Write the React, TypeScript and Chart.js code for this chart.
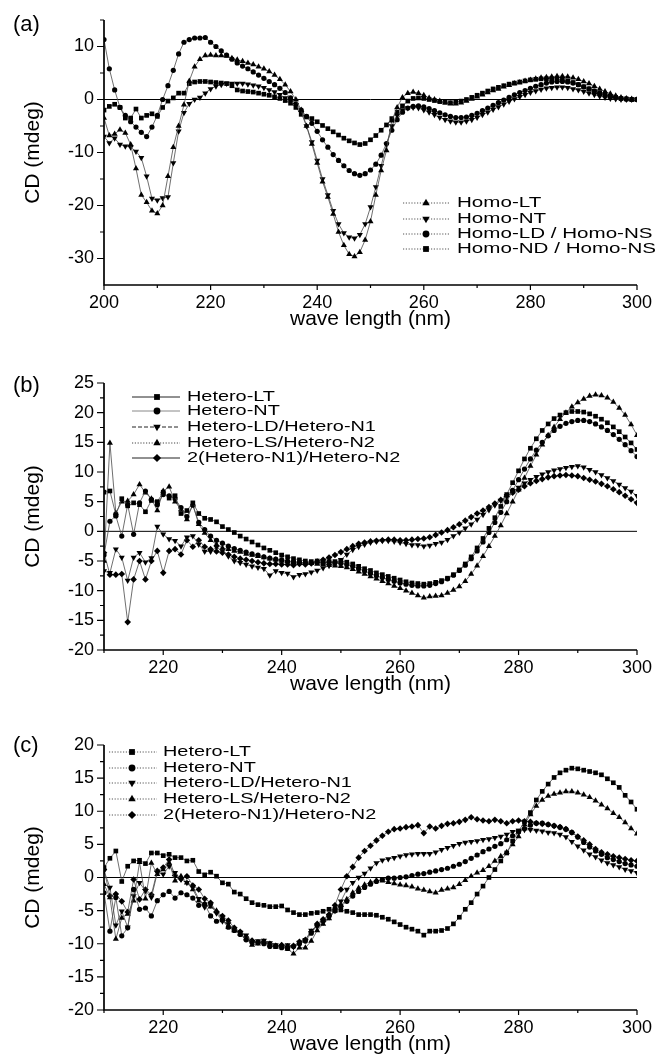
import React, { useEffect, useRef } from 'react';
import { Chart, registerables } from 'chart.js';

Chart.register(...registerables);

// ---------- categories (wavelength grids, nm) ----------
const range = (a: number, b: number) => Array.from({ length: b - a + 1 }, (_, i) => a + i);
const WL_A = range(200, 300);
const WL_BC = range(210, 300);

// ---------- tick labels ----------
const A_X_TICKS = [200, 220, 240, 260, 280, 300];
const A_X_MINOR = [210, 230, 250, 270, 290];
const A_Y_TICKS = [10, 0, -10, -20, -30];
const A_Y_MINOR = [15, 5, -5, -15, -25];
const BC_X_TICKS = [220, 240, 260, 280, 300];
const BC_X_MINOR = [210, 230, 250, 270, 290];
const B_Y_TICKS = [25, 20, 15, 10, 5, 0, -5, -10, -15, -20];
const B_Y_MINOR = [22.5, 17.5, 12.5, 7.5, 2.5, -2.5, -7.5, -12.5, -17.5];
const C_Y_TICKS = [20, 15, 10, 5, 0, -5, -10, -15, -20];
const C_Y_MINOR = [17.5, 12.5, 7.5, 2.5, -2.5, -7.5, -12.5, -17.5];

// ---------- panel (a) series, 200..300 nm ----------
const A_LABELS = ['Homo-LT', 'Homo-NT', 'Homo-LD / Homo-NS', 'Homo-ND / Homo-NS'];
const A_LT = [
  -3.5, -6.8, -6.5, -5.7, -6.3, -8.5, -13, -18, -19.4, -21,
  -21.5, -20, -14.5, -9, -5, -1, 3.5, 6.2, 7.6, 8.3,
  8.4, 8.3, 8.3, 8.2, 7.8, 7.5, 7.2, 6.9, 6.6, 6.2,
  5.8, 5.3, 4.6, 3.8, 2.8, 1.5, 0, -2, -5, -8.4,
  -12, -15.5, -18.4, -21.6, -25, -27.5, -29.2, -29.6, -28.8, -26.5,
  -23, -18, -13.4, -9.6, -4, -1.5, 0.4, 1.2, 1.4, 1.2,
  0.8, 0.3, 0, -0.3, -0.6, -0.8, -0.8, -0.6, -0.3, 0.1,
  0.5, 0.9, 1.3, 1.7, 2, 2.4, 2.7, 3, 3.2, 3.5,
  3.7, 3.9, 4.1, 4.2, 4.3, 4.4, 4.4, 4.3, 4.1, 3.8,
  3.4, 3, 2.5, 2, 1.5, 1.1, 0.7, 0.4, 0.2, 0.1,
  0,
];
const A_NT = [
  -7, -8.2, -7.3, -8.5, -8.8, -9, -9.8, -11, -14.5, -18.7,
  -19, -18.6, -18.4, -12, -6, -2.5, -0.8, 0, 0.4, 1.2,
  2, 2.5, 2.8, 3, 3, 3, 3, 2.9, 2.7, 2.5,
  2.2, 1.8, 1.4, 0.9, 0.3, -0.3, -1, -2.5, -5, -8,
  -11.5, -15, -18, -21, -23.5, -25.2, -26, -26.2, -25.5, -23.5,
  -20.3, -16.5, -12.5, -8.5, -5, -3, -2, -1.6, -1.5, -1.6,
  -2, -2.4, -2.9, -3.4, -3.8, -4.1, -4.3, -4.3, -4.1, -3.8,
  -3.4, -2.9, -2.4, -1.9, -1.4, -0.9, -0.4, 0.1, 0.5, 0.9,
  1.3, 1.6, 1.9, 2.1, 2.2, 2.3, 2.3, 2.2, 2, 1.8,
  1.5, 1.2, 0.9, 0.6, 0.4, 0.2, 0.1, 0, 0, 0,
  0,
];
const A_LD = [
  11.3, 5.8, 1.8, -1.5, -3, -4.2, -5.2, -6.2, -7, -5.2,
  -3, 0, 2.6, 5.5, 8.6, 10.8, 11.3, 11.6, 11.6, 11.7,
  10.8, 10, 9.2, 8.4, 7.6, 6.9, 6.3, 5.8, 5.2, 4.6,
  4, 3.4, 2.8, 2.1, 1.3, 0.3, -0.8, -2, -3.2, -4.5,
  -6, -7.6, -9, -10.4, -11.5, -12.5, -13.4, -14, -14.3, -14,
  -13.3, -12.2, -10.5, -8.3, -5.8, -3.8, -2.4, -1.6, -1.3, -1.2,
  -1.4, -1.7, -2.1, -2.5, -2.9, -3.2, -3.4, -3.4, -3.3, -3,
  -2.6, -2.1, -1.6, -1.1, -0.6, -0.1, 0.4, 0.9, 1.3, 1.7,
  2.1, 2.5, 2.8, 3.1, 3.3, 3.4, 3.4, 3.3, 3.1, 2.8,
  2.4, 2, 1.6, 1.2, 0.9, 0.6, 0.4, 0.2, 0.1, 0,
  0,
];
const A_ND = [
  -2, -1.3, -0.9, -1.5, -3.5, -3.5, -1.8, -3.5, -3, -2.7,
  -3.2, -1.5, -0.3, 0.3, 1.2, 1.2, 3, 3.3, 3.4, 3.4,
  3.3, 3.2, 3.1, 3, 2.6, 1.8, 1.6, 1.5, 1.4, 1.2,
  1, 0.8, 0.5, 0.2, -0.2, -0.7, -1.5, -2.8, -3.3, -3.6,
  -4.2, -4.9, -5.5, -6.1, -6.7, -7.3, -7.8, -8.2, -8.5, -8.3,
  -7.6, -6.8, -5.8, -4.8, -3.6, -2.4, -1.2, -0.3, 0.2, 0.3,
  0.2, 0, -0.2, -0.4, -0.5, -0.6, -0.5, -0.3, 0, 0.4,
  0.8, 1.2, 1.6, 2, 2.3, 2.6, 2.9, 3.1, 3.3, 3.5,
  3.7, 3.8, 3.9, 3.9, 3.9, 3.8, 3.7, 3.5, 3.2, 2.8,
  2.4, 2, 1.6, 1.2, 0.9, 0.6, 0.4, 0.2, 0.1, 0,
  0,
];

// ---------- panel (b) series, 210..300 nm ----------
const B_LABELS = ['Hetero-LT', 'Hetero-NT', 'Hetero-LD/Hetero-N1', 'Hetero-LS/Hetero-N2', '2(Hetero-N1)/Hetero-N2'];
const B_LT = [
  6.6, 6.8, 2.8, 5.5, 4.3, 4.8, 4.5, 3.3, 5.2, 5.0,
  6.6, 5.6, 6.0, 3.0, 3.5, 4.8, 3.0, 2.2, 2.0, 1.6,
  0.8, 0.3, -0.2, -0.8, -1.3, -1.8, -2.3, -2.8, -3.2, -3.6,
  -4.0, -4.3, -4.6, -4.8, -5.0, -5.1, -5.0, -5.2, -5.1, -5.1,
  -5.0, -5.2, -5.5, -5.9, -6.3, -6.6, -7.0, -7.3, -7.6, -7.9,
  -8.2, -8.5, -8.7, -8.8, -8.9, -8.8, -8.6, -8.3, -7.9, -7.3,
  -6.5, -5.5, -4.3, -2.8, -1.2, 0.5, 2.3, 4.2, 6.2, 8.2,
  10.2, 12.2, 14.0, 15.6, 17.0, 18.1, 19.0, 19.6, 20.0, 20.2,
  20.2, 20.1, 19.8, 19.4, 18.9, 18.3, 17.6, 16.8, 15.9, 14.9,
  13.8,
];
const B_NT = [
  -4.0, 1.7, 2.6, -0.8, 4.5, -0.5, 4.8, 6.8, 5.4, 4.5,
  6.2, 6.0, 5.5, 4.0, 2.5, 4.4, 1.5, 0.3, -0.8, -1.5,
  -2.0, -2.5, -2.9, -3.2, -3.5, -3.8, -4.0, -4.3, -4.5, -4.7,
  -4.8, -5.0, -5.1, -5.2, -5.3, -5.3, -5.2, -5.3, -5.2, -5.3,
  -5.4, -5.6, -5.9, -6.3, -6.7, -7.1, -7.5, -7.8, -8.1, -8.4,
  -8.7, -8.9, -9.1, -9.2, -9.2, -9.1, -8.8, -8.5, -8.0, -7.4,
  -6.6, -5.7, -4.6, -3.3, -1.8, -0.2, 1.5, 3.2, 5.0, 6.9,
  8.7, 10.5, 12.2, 13.7, 15.0, 16.1, 17.0, 17.7, 18.2, 18.5,
  18.7, 18.7, 18.5, 18.1, 17.6, 17.0, 16.3, 15.5, 14.6, 13.6,
  12.6,
];
const B_LD = [
  -6.7, -7.0, -3.0, -4.4, -8.3, -4.4, -3.6, -5.2, -4.5, 0.8,
  -0.5, -1.3, -1.6, -2.5, -1.0, -0.8, -2.2, -3.4, -3.4, -2.7,
  -3.3, -4.2, -5.0, -5.3, -5.6, -5.9, -6.1, -6.3, -7.4, -6.7,
  -7.0, -7.1, -7.7, -7.3, -7.2, -6.9, -6.6, -6.2, -5.8, -5.4,
  -4.8, -3.9, -3.1, -2.6, -2.2, -1.9, -1.7, -1.6, -1.6, -1.7,
  -1.9, -2.1, -2.3, -2.3, -2.5, -2.4, -2.1, -1.9, -1.4, -0.8,
  -0.2, 0.5, 1.2, 2.0, 2.8, 3.6, 4.4, 5.2, 6.0, 6.7,
  7.4, 8.1, 8.7, 9.2, 9.6, 10.0, 10.3, 10.5, 10.7, 10.9,
  11.0, 10.8, 10.4, 10.0, 9.5, 9.0, 8.5, 7.9, 7.3, 6.7,
  6.0,
];
const B_LS = [
  -5.0, 14.9, 3.1, 5.0, 5.1, 6.2, 7.9, 6.5, 5.5, 3.5,
  6.8, 7.5, 5.0, 3.7, 2.0, 4.5, 1.2, -0.3, -1.5, -2.2,
  -2.8, -3.0, -3.3, -3.5, -3.8, -4.0, -4.2, -4.4, -4.6, -4.8,
  -5.0, -5.1, -5.2, -5.3, -5.4, -5.4, -5.5, -5.6, -5.7, -5.8,
  -5.9, -6.1, -6.4, -6.8, -7.2, -7.6, -8.0, -8.4, -8.8, -9.2,
  -9.6, -10.0, -10.4, -10.8, -11.2, -11.0, -10.9, -10.8, -10.4, -9.9,
  -9.3, -8.4, -7.2, -5.8, -4.2, -2.5, -0.8, 1.0, 3.0, 5.0,
  7.0, 9.0, 11.0, 12.9, 14.6, 16.2, 17.6, 18.9, 20.0, 21.0,
  21.7, 22.3, 22.8, 23.0, 22.9, 22.5, 21.8, 20.8, 19.6, 18.0,
  16.2,
];
const B_2N1 = [
  -3.6, -7.3, -7.3, -7.2, -15.3, -8.1, -5.0, -8.1, -5.0, -3.3,
  -7.0, -3.3, -3.0, -3.9, -1.5, -2.6, -1.5, -2.6, -3.0, -3.4,
  -3.6, -3.9, -4.3, -4.6, -4.8, -5.0, -5.2, -5.4, -5.5, -5.5,
  -5.6, -5.6, -5.7, -5.5, -5.6, -5.4, -5.1, -4.8, -4.4, -4.0,
  -3.5, -3.0, -2.5, -2.1, -1.9, -1.7, -1.6, -1.5, -1.4, -1.4,
  -1.5, -1.5, -1.4, -1.3, -1.2, -1.0, -0.6, -0.2, 0.2, 0.7,
  1.2, 1.8, 2.4, 3.0, 3.5, 4.1, 4.7, 5.3, 5.9, 6.5,
  7.0, 7.6, 8.1, 8.5, 8.8, 9.1, 9.3, 9.4, 9.5, 9.4,
  9.3, 9.0, 8.7, 8.4, 8.0, 7.6, 7.1, 6.6, 6.0, 5.4,
  4.8,
];

// ---------- panel (c) series, 210..300 nm ----------
const C_LABELS = ['Hetero-LT', 'Hetero-NT', 'Hetero-LD/Hetero-N1', 'Hetero-LS/Hetero-N2', '2(Hetero-N1)/Hetero-N2'];
const C_LT = [
  1.5, 2.9, 4.0, -0.6, 1.7, 2.5, 2.6, 2.1, 3.7, 3.7,
  3.3, 3.5, 3.0, 3.0, 2.5, 2.6, 0.9, 0.4, 0.8, 0.2,
  -0.8, -1.0, -2.2, -2.5, -3.2, -3.8, -4.1, -4.2, -4.4, -4.4,
  -4.3, -4.9, -5.3, -5.6, -5.6, -5.4, -5.3, -5.1, -4.8, -4.8,
  -4.9, -5.1, -5.3, -5.6, -5.6, -5.6, -5.7, -6.0, -6.3, -6.7,
  -7.1, -7.5, -7.8, -8.1, -8.7, -8.1, -8.1, -8.0, -7.7, -7.0,
  -6.0, -4.8, -3.8, -2.5, -1.3, 0.0, 1.2, 2.5, 3.7, 5.5,
  7.0, 8.4, 9.8, 11.7, 13.0, 14.1, 15.1, 15.8, 16.2, 16.5,
  16.4, 16.2, 16.0, 15.8, 15.5, 14.9, 14.3, 13.6, 12.4, 11.4,
  10.3,
];
const C_NT = [
  -2.3, -8.1, -3.0, -8.8, -7.6, -1.8, -4.8, -4.6, -5.8, -3.5,
  -2.6, -2.1, -3.1, -2.3, -2.6, -3.1, -4.2, -4.0, -5.8, -6.6,
  -6.3, -7.5, -8.0, -8.6, -9.4, -9.8, -9.8, -10.0, -10.4, -10.4,
  -10.6, -10.7, -10.4, -10.0, -9.6, -8.4, -7.2, -6.5, -5.8, -5.0,
  -4.3, -3.6, -2.8, -2.1, -1.5, -1.0, -0.6, -0.3, -0.1, -0.1,
  0.0, 0.1, 0.3, 0.5, 0.6, 0.8, 1.0, 1.2, 1.4, 1.7,
  2.0, 2.4, 2.9, 3.4, 3.9, 4.3, 4.7, 5.1, 5.7, 6.3,
  6.9, 7.4, 7.9, 8.2, 8.2, 8.0, 7.8, 7.6, 7.3, 6.8,
  6.1, 5.3, 4.6, 4.0, 3.5, 3.0, 2.7, 2.4, 2.1, 1.9,
  1.7,
];
const C_LD = [
  1.0, -1.5, -7.2, -5.1, -7.5, -2.8, -0.8, -2.0, -3.0, 0.7,
  0.5, 1.7, 0.7, -0.3, -0.8, -1.5, -3.2, -4.5, -4.2, -5.4,
  -6.6, -7.0, -7.8, -8.3, -8.7, -9.8, -9.6, -9.5, -9.9, -10.2,
  -10.4, -10.2, -10.5, -9.8, -9.4, -8.0, -7.4, -6.8, -6.0, -5.0,
  -3.6, -1.8, -0.8, 0.0, 0.6, 1.4, 2.2, 2.6, 2.8, 3.0,
  3.2, 3.4, 3.5, 3.6, 3.6, 3.6, 3.8, 4.2, 4.5, 4.8,
  5.1, 5.3, 5.4, 5.5, 5.7, 5.8, 6.0, 6.2, 6.5, 6.9,
  7.1, 7.2, 7.2, 7.1, 7.0, 6.8, 6.7, 6.5, 6.1, 5.4,
  4.7, 4.1, 3.5, 3.1, 2.6, 2.2, 1.9, 1.6, 1.2, 1.0,
  0.7,
];
const C_LS = [
  -1.0, -3.0, -9.3, -6.1, -5.5, -3.5, 2.3, -3.2, 2.2, 0.5,
  1.2, 2.2, -0.5, 0.2, -0.8, -1.8, -3.5, -4.0, -4.4, -5.0,
  -6.5, -7.5, -8.0, -8.5, -9.2, -10.2, -10.0, -9.7, -10.2, -10.5,
  -10.3, -10.8, -11.5, -10.6, -10.6, -9.6, -8.0, -7.0, -6.2, -5.0,
  -4.2, -3.3, -2.3, -1.6, -1.1, -0.7, -0.4, -0.5, -0.7, -0.9,
  -1.1, -1.2, -1.4, -1.7, -1.9, -2.1, -2.3, -1.9, -1.7, -1.5,
  -1.0, -0.4, 0.2, 0.7, 1.1, 1.7, 2.5, 3.2, 3.8, 5.0,
  6.2, 8.0, 9.5, 10.8, 11.7, 12.3, 12.6, 12.8, 13.0, 13.0,
  12.8, 12.5, 12.1, 11.6, 11.0, 10.4, 9.7, 9.1, 8.3, 7.4,
  6.6,
];
const C_2N1 = [
  1.2, -2.8, -2.5, -3.6, -5.2, -0.3, -3.3, -1.8, -2.6, 1.0,
  1.5, 2.7, 0.3, -0.2, 0.2, -1.2, -1.8, -3.2, -3.8, -5.2,
  -5.8, -6.5, -7.6, -8.2, -9.0, -9.5, -9.8, -9.7, -10.0, -10.3,
  -10.2, -10.4, -10.3, -9.7, -9.4, -8.2, -7.0, -6.3, -5.6, -4.2,
  -1.8, 0.2, 1.6, 3.0, 4.0, 4.8, 5.6, 6.3, 6.9, 7.3,
  7.4, 7.6, 7.7, 7.9, 6.7, 7.7, 7.4, 7.8, 8.1, 8.2,
  8.4, 8.7, 9.1, 8.8, 8.6, 8.5, 8.7, 8.5, 8.2, 8.5,
  8.6, 8.5, 8.4, 8.2, 8.1, 8.0, 7.8, 7.6, 7.3, 6.8,
  6.2, 5.6, 5.0, 4.3, 3.8, 3.5, 3.2, 3.0, 2.8, 2.6,
  2.5,
];

// ---------- styling / layout (not data) ----------
const FONT = '"Liberation Sans", Arial, Helvetica, sans-serif';
const W = 655;

type Marker = 'triangle' | 'triangleDown' | 'circle' | 'rect' | 'rectRot';
interface SeriesSpec { label: string; ys: number[]; marker: Marker; legendDash: number[]; legendColor: string; legendWidth: number; }
interface PanelSpec {
  key: string; name: string; top: number; height: number; areaTop: number; areaBottom: number;
  xs: number[]; xMin: number; xMax: number; yMin: number; yMax: number;
  xTicks: number[]; xMinor: number[]; yTicks: number[]; yMinor: number[];
  series: SeriesSpec[];
  legend: { x0: number; x1: number; mx: number; tx: number; rows: number[]; sx: number; size: number };
  labelBaseline: number;
}

const DOT = [1.2, 1.6];
const mk = (labels: string[], arrs: number[][], markers: Marker[], dashes: number[][], colors: string[]): SeriesSpec[] =>
  labels.map((label, i) => ({ label, ys: arrs[i], marker: markers[i], legendDash: dashes[i], legendColor: colors[i], legendWidth: 1 }));

const PANELS: PanelSpec[] = [
  {
    key: 'a', name: '(a)', top: 0, height: 345, areaTop: 20, areaBottom: 285,
    xs: WL_A, xMin: 200, xMax: 300, yMin: -35, yMax: 15,
    xTicks: A_X_TICKS, xMinor: A_X_MINOR, yTicks: A_Y_TICKS, yMinor: A_Y_MINOR,
    series: mk(A_LABELS, [A_LT, A_NT, A_LD, A_ND], ['triangle', 'triangleDown', 'circle', 'rect'],
      [DOT, DOT, DOT, DOT], ['#555', '#555', '#555', '#555']),
    legend: { x0: 403, x1: 450, mx: 426, tx: 457, rows: [203, 219, 234, 249], sx: 1.47, size: 14 },
    labelBaseline: 31,
  },
  {
    key: 'b', name: '(b)', top: 345, height: 360, areaTop: 383, areaBottom: 650,
    xs: WL_BC, xMin: 210, xMax: 300, yMin: -20, yMax: 25,
    xTicks: BC_X_TICKS, xMinor: BC_X_MINOR, yTicks: B_Y_TICKS, yMinor: B_Y_MINOR,
    series: mk(B_LABELS, [B_LT, B_NT, B_LD, B_LS, B_2N1], ['rect', 'circle', 'triangleDown', 'triangle', 'rectRot'],
      [[], [], [4, 2], DOT, []], ['#222', '#888', '#222', '#444', '#222']),
    legend: { x0: 132, x1: 180, mx: 157, tx: 187, rows: [397, 411, 427, 443, 458], sx: 1.42, size: 14 },
    labelBaseline: 392,
  },
  {
    key: 'c', name: '(c)', top: 705, height: 358, areaTop: 745, areaBottom: 1010,
    xs: WL_BC, xMin: 210, xMax: 300, yMin: -20, yMax: 20,
    xTicks: BC_X_TICKS, xMinor: BC_X_MINOR, yTicks: C_Y_TICKS, yMinor: C_Y_MINOR,
    series: mk(C_LABELS, [C_LT, C_NT, C_LD, C_LS, C_2N1], ['rect', 'circle', 'triangleDown', 'triangle', 'rectRot'],
      [DOT, DOT, DOT, DOT, DOT], ['#555', '#555', '#555', '#555', '#555']),
    legend: { x0: 109, x1: 157, mx: 132, tx: 163, rows: [752, 768, 783, 799, 815], sx: 1.42, size: 14 },
    labelBaseline: 752,
  },
];

const MARKER_R: Record<Marker, number> = { triangle: 3.5, triangleDown: 3.5, circle: 2.6, rect: 3.3, rectRot: 3.3 };

function drawMarker(ctx: CanvasRenderingContext2D, m: Marker, x: number, y: number, r: number) {
  ctx.beginPath();
  if (m === 'triangle' || m === 'triangleDown') {
    let a = m === 'triangle' ? 0 : Math.PI;
    for (let k = 0; k < 3; k++) {
      const px = x + Math.sin(a) * r, py = y - Math.cos(a) * r;
      if (k === 0) ctx.moveTo(px, py); else ctx.lineTo(px, py);
      a += (2 * Math.PI) / 3;
    }
    ctx.closePath();
  } else if (m === 'circle') {
    ctx.arc(x, y, r, 0, Math.PI * 2);
  } else if (m === 'rect') {
    const s = r * Math.SQRT1_2;
    ctx.rect(x - s, y - s, 2 * s, 2 * s);
  } else {
    ctx.moveTo(x, y - r); ctx.lineTo(x + r, y); ctx.lineTo(x, y + r); ctx.lineTo(x - r, y); ctx.closePath();
  }
  ctx.fill();
}

function text(ctx: CanvasRenderingContext2D, s: string, x: number, y: number, size: number,
  align: CanvasTextAlign, baseline: CanvasTextBaseline, sx = 1, rot = 0) {
  ctx.save();
  ctx.translate(x, y);
  if (rot) ctx.rotate(rot);
  ctx.scale(sx, 1);
  ctx.font = `${size}px ${FONT}`;
  ctx.textAlign = align;
  ctx.textBaseline = baseline;
  ctx.fillStyle = '#000';
  ctx.fillText(s, 0, 0);
  ctx.restore();
}

function decorPlugin(p: PanelSpec) {
  return {
    id: 'decor_' + p.key,
    beforeDatasetsDraw(chart: any) {
      const { ctx, chartArea: a, scales } = chart;
      const y0 = scales.y.getPixelForValue(0);
      ctx.save();
      ctx.strokeStyle = '#000';
      ctx.lineWidth = 1;
      ctx.beginPath();
      ctx.moveTo(a.left, y0);
      ctx.lineTo(a.right, y0);
      ctx.stroke();
      ctx.restore();
    },
    afterDraw(chart: any) {
      const { ctx, chartArea: a, scales } = chart;
      const sx = scales.x, sy = scales.y;
      ctx.save();
      ctx.strokeStyle = '#000';
      ctx.lineWidth = 1.7;
      ctx.beginPath();
      ctx.moveTo(a.left, a.top);
      ctx.lineTo(a.left, a.bottom);
      ctx.lineTo(a.right, a.bottom);
      ctx.stroke();
      ctx.lineWidth = 1.2;
      ctx.beginPath();
      for (const v of p.yTicks) { const py = sy.getPixelForValue(v); ctx.moveTo(a.left - 7, py); ctx.lineTo(a.left, py); }
      for (const v of p.yMinor) { const py = sy.getPixelForValue(v); ctx.moveTo(a.left - 4, py); ctx.lineTo(a.left, py); }
      for (const v of p.xTicks) { const px = sx.getPixelForValue(v); ctx.moveTo(px, a.bottom); ctx.lineTo(px, a.bottom + 5); }
      for (const v of p.xMinor) { const px = sx.getPixelForValue(v); ctx.moveTo(px, a.bottom); ctx.lineTo(px, a.bottom + 3); }
      ctx.stroke();

      for (const v of p.yTicks) text(ctx, String(v), a.left - 10, sy.getPixelForValue(v), 18, 'right', 'middle');
      for (const v of p.xTicks) text(ctx, String(v), sx.getPixelForValue(v), a.bottom + 23, 18, 'center', 'alphabetic');
      text(ctx, 'wave length (nm)', (a.left + a.right) / 2, a.bottom + 40, 21, 'center', 'alphabetic');
      text(ctx, 'CD (mdeg)', 33, (a.top + a.bottom) / 2, 21, 'center', 'middle', 1, -Math.PI / 2);
      text(ctx, p.name, 13, p.labelBaseline - p.top, 22, 'left', 'alphabetic');

      // legend
      const L = p.legend;
      p.series.forEach((s, i) => {
        const y = L.rows[i] - p.top;
        ctx.save();
        ctx.strokeStyle = s.legendColor;
        ctx.lineWidth = s.legendWidth;
        ctx.setLineDash(s.legendDash);
        ctx.beginPath();
        ctx.moveTo(L.x0, y);
        ctx.lineTo(L.x1, y);
        ctx.stroke();
        ctx.restore();
        ctx.fillStyle = '#000';
        drawMarker(ctx, s.marker, L.mx, y, MARKER_R[s.marker] + 0.8);
        text(ctx, s.label, L.tx, y + 0.5, L.size, 'left', 'middle', L.sx);
      });
      ctx.restore();
    },
  };
}

function buildConfig(p: PanelSpec): any {
  return {
    type: 'line',
    data: {
      datasets: p.series.map((s) => ({
        label: s.label,
        data: p.xs.map((x, i) => ({ x, y: s.ys[i] })),
        borderColor: '#4a4a4a',
        borderWidth: 0.8,
        pointStyle: s.marker === 'triangleDown' ? 'triangle' : s.marker,
        pointRotation: s.marker === 'triangleDown' ? 180 : 0,
        pointRadius: MARKER_R[s.marker],
        pointBackgroundColor: '#000',
        pointBorderColor: '#000',
        pointBorderWidth: 0,
        pointHoverRadius: MARKER_R[s.marker],
        tension: 0,
        fill: false,
      })),
    },
    options: {
      animation: false,
      responsive: false,
      maintainAspectRatio: false,
      events: [],
      layout: { padding: { left: 0, right: W - 637, top: p.areaTop - p.top, bottom: 0 } },
      plugins: { legend: { display: false }, tooltip: { enabled: false }, title: { display: false } },
      scales: {
        x: {
          type: 'linear', min: p.xMin, max: p.xMax,
          ticks: { display: false }, grid: { display: false }, border: { display: false },
          afterFit: (s: any) => { s.height = p.top + p.height - p.areaBottom; },
        },
        y: {
          type: 'linear', min: p.yMin, max: p.yMax,
          ticks: { display: false }, grid: { display: false }, border: { display: false },
          afterFit: (s: any) => { s.width = 104; },
        },
      },
    },
    plugins: [decorPlugin(p)],
  };
}

function Panel({ p }: { p: PanelSpec }) {
  const ref = useRef<HTMLCanvasElement>(null);
  useEffect(() => {
    if (!ref.current) return;
    const chart = new Chart(ref.current, buildConfig(p));
    return () => chart.destroy();
  }, [p]);
  return (
    <canvas
      ref={ref}
      width={W}
      height={p.height}
      style={{ position: 'absolute', left: 0, top: p.top, width: W, height: p.height }}
    />
  );
}

export default function App() {
  return (
    <div style={{ position: 'absolute', left: 0, top: 0, width: W, height: 1063, background: '#fff', overflow: 'hidden' }}>
      {PANELS.map((p) => <Panel key={p.key} p={p} />)}
    </div>
  );
}
